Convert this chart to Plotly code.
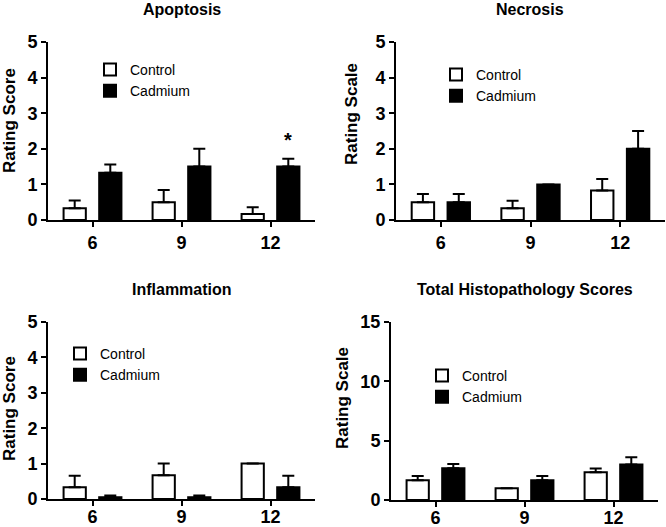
import plotly.graph_objects as go

# ---- data ----
weeks = ["6", "9", "12"]

apop_ctrl = [0.33, 0.5, 0.17]
apop_ctrl_err = [0.22, 0.34, 0.19]
apop_cd = [1.33, 1.5, 1.5]
apop_cd_err = [0.23, 0.5, 0.22]

necr_ctrl = [0.5, 0.33, 0.83]
necr_ctrl_err = [0.23, 0.21, 0.32]
necr_cd = [0.5, 1.0, 2.0]
necr_cd_err = [0.23, 0.0, 0.5]

infl_ctrl = [0.33, 0.67, 1.0]
infl_ctrl_err = [0.33, 0.33, 0.0]
infl_cd = [0.05, 0.05, 0.33]
infl_cd_err = [0.05, 0.05, 0.33]

tot_ctrl = [1.67, 1.0, 2.33]
tot_ctrl_err = [0.36, 0.0, 0.33]
tot_cd = [2.67, 1.67, 3.0]
tot_cd_err = [0.37, 0.36, 0.6]

titles = ["Apoptosis", "Necrosis", "Inflammation", "Total Histopathology Scores"]
ylabels = ["Rating Score", "Rating Scale", "Rating Score", "Rating Scale"]
yranges = [5, 5, 5, 15]
ydticks = [1, 1, 1, 5]

FONT = "Liberation Sans, Arial, sans-serif"
W, H = 666, 527

panels = [
    (apop_ctrl, apop_ctrl_err, apop_cd, apop_cd_err),
    (necr_ctrl, necr_ctrl_err, necr_cd, necr_cd_err),
    (infl_ctrl, infl_ctrl_err, infl_cd, infl_cd_err),
    (tot_ctrl, tot_ctrl_err, tot_cd, tot_cd_err),
]

# layout geometry in pixels (left, right, top, bottom)
boxes = [(48, 315, 42, 220), (396, 665, 42, 220), (48, 315, 322, 499), (391, 658, 322, 500)]
legend_pos = [(90, 54), (436, 59), (60, 338), (422, 360)]
title_pos = [(182, 10), (530, 10), (182, 289), (525, 289)]
ytitle_pos = [(9, 121), (351, 114), (9, 409), (342, 398)]
xlabel_standoff = [0, 0, -5, -5]

fig = go.Figure()
layout = dict(
    template="none",
    width=W, height=H,
    margin=dict(l=0, r=0, t=0, b=0, pad=0, autoexpand=False),
    paper_bgcolor="white", plot_bgcolor="white",
    barmode="group", bargap=0.2, bargroupgap=0.375,
    font=dict(family=FONT, color="black"),
    annotations=[],
)

for i, (c, ce, d, de) in enumerate(panels):
    n = "" if i == 0 else str(i + 1)
    leg = "legend" + n
    err_c = dict(type="data", array=ce, arrayminus=[0, 0, 0], symmetric=False,
                 color="black", thickness=2, width=6)
    err_d = dict(type="data", array=de, arrayminus=[0, 0, 0], symmetric=False,
                 color="black", thickness=2, width=6)
    fig.add_trace(go.Bar(x=weeks, y=c, name="Control", xaxis="x" + n, yaxis="y" + n,
                         marker=dict(color="white", line=dict(color="black", width=2)),
                         error_y=err_c, legend=leg))
    fig.add_trace(go.Bar(x=weeks, y=d, name="Cadmium", xaxis="x" + n, yaxis="y" + n,
                         marker=dict(color="black", line=dict(color="black", width=2)),
                         error_y=err_d, legend=leg))
    l, r, t, b = boxes[i]
    layout["xaxis" + n] = dict(
        domain=[l / W, r / W], anchor="y" + n, type="category", automargin=False,
        range=[-0.5, 2.5], showline=True, linecolor="black", linewidth=2,
        ticks="outside", ticklen=5, tickwidth=2, tickcolor="black",
        ticklabelstandoff=xlabel_standoff[i],
        showgrid=False, zeroline=False,
        tickfont=dict(family=FONT, size=18, color="black", weight="bold"),
    )
    layout["yaxis" + n] = dict(
        domain=[1 - b / H, 1 - t / H], anchor="x" + n, automargin=False,
        range=[0, yranges[i]], dtick=ydticks[i], tick0=0,
        showline=True, linecolor="black", linewidth=2,
        ticks="outside", ticklen=5, tickwidth=2, tickcolor="black",
        showgrid=False, zeroline=False,
        tickfont=dict(family=FONT, size=18, color="black", weight="bold"),
    )
    lx, ly = legend_pos[i]
    layout[leg] = dict(
        x=lx / W, y=1 - ly / H, xanchor="left", yanchor="top",
        xref="paper", yref="paper", bgcolor="rgba(0,0,0,0)",
        font=dict(family=FONT, size=14, color="black"),
        traceorder="normal", tracegroupgap=0,
    )
    tx, ty = title_pos[i]
    layout["annotations"].append(dict(
        text=titles[i], x=tx / W, y=1 - ty / H, xref="paper", yref="paper",
        xanchor="center", yanchor="middle", showarrow=False,
        font=dict(family=FONT, size=16, color="black", weight="bold"),
    ))
    yx, yy = ytitle_pos[i]
    layout["annotations"].append(dict(
        text=ylabels[i], x=yx / W, y=1 - yy / H, xref="paper", yref="paper",
        xanchor="center", yanchor="middle", showarrow=False, textangle=-90,
        font=dict(family=FONT, size=17, color="black", weight="bold"),
    ))

# significance marker above Cadmium at 12 weeks (apoptosis)
layout["annotations"].append(dict(
    text="*", x=2 + 0.2, y=apop_cd[2] + apop_cd_err[2], xref="x", yref="y",
    xanchor="center", yanchor="bottom", yshift=6, showarrow=False,
    font=dict(family=FONT, size=20, color="black", weight="bold"),
))

fig.update_layout(**layout)
fig.write_html(
    "out.html",
    config={"displayModeBar": False},
    post_script="document.body.style.margin='0';document.body.style.overflow='hidden';",
)
